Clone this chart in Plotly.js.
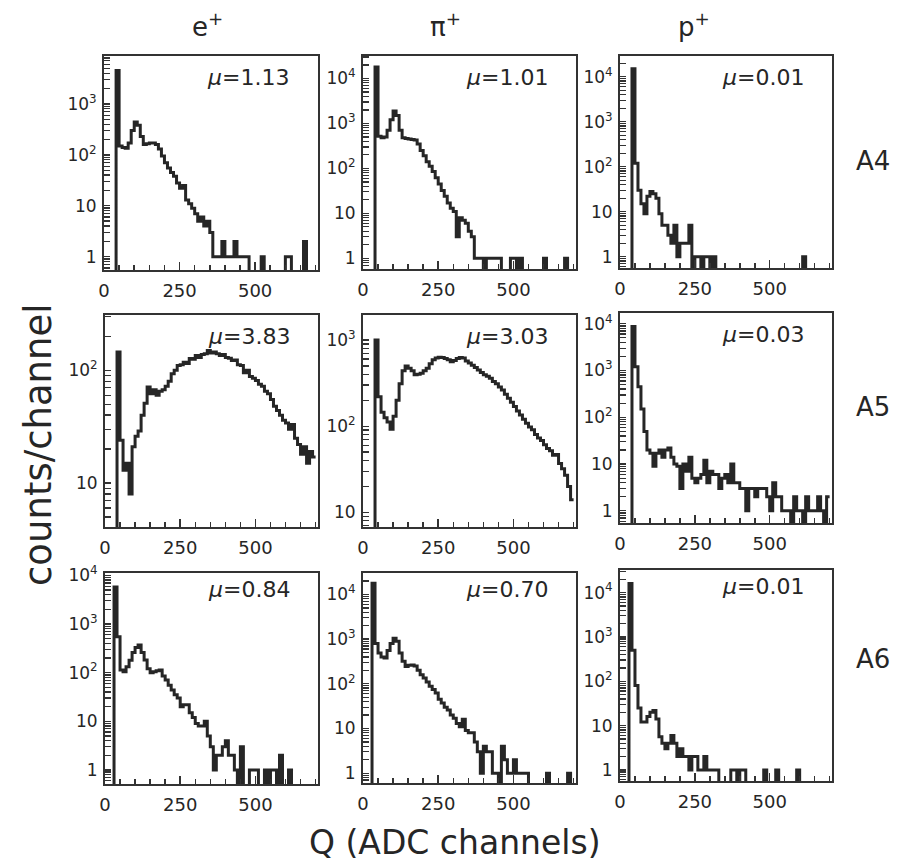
<!DOCTYPE html>
<html>
<head>
<meta charset="utf-8">
<script src="https://cdn.plot.ly/plotly-3.0.1.min.js"></script>
<style>html,body{margin:0;padding:0;background:#fff;}#chart{width:897px;height:863px;}</style>
</head>
<body>
<div id="chart"></div>
<script>
// ---- data: counts per 10-channel bin, channels 0..700 ----
const binWidth = 10;
const particles = ['e<sup>+</sup>', 'π<sup>+</sup>', 'p<sup>+</sup>'];
const detectors = ['A4', 'A5', 'A6'];
const muLabels = ['1.13', '1.01', '0.01', '3.83', '3.03', '0.03', '0.84', '0.70', '0.01'];
const xTickLabels = ['0', '250', '500'];
const yMajorVals = [1, 10, 100, 1000, 10000];
const yMajorLabels = ['1', '10', '10<sup>2</sup>', '10<sup>3</sup>', '10<sup>4</sup>'];

const ePlusA4 = [0,0,0,0,4500,150,140,135,170,300,440,380,230,160,165,170,170,160,130,95,
  70,55,45,38,28,22,25,13,11,9,7,5,6,4,5,3,1,1,1,2,
  1,1,1,2,1,1,1,1,0,0,0,0,1,0,0,0,0,0,0,0,
  1,1,0,0,0,0,2,0,0,0];
const piPlusA4 = [0,0,0,0,18000,520,480,500,700,1200,1900,1500,700,480,460,450,440,430,350,250,
  190,140,112,85,62,45,32,24,17,13,11,3,8,7,6,4,3,1,1,1,
  0,1,1,1,1,1,0,0,0,1,1,0,1,0,0,0,0,0,0,0,
  1,0,0,0,0,0,0,1,0,0];
const pPlusA4 = [0,0,0,0,15000,120,30,15,9,22,28,25,20,9,5,5,3,2,5,1,
  2,2,2,5,0,1,1,0,1,1,0,1,0,0,0,0,0,0,0,0,
  0,0,0,0,0,0,0,0,0,0,0,0,0,0,0,0,0,0,0,0,
  0,1,0,0,0,0,0,0,0,0];
const ePlusA5 = [0,0,0,0,145,24,13,15,8,21,26,29,40,51,71,62,67,60,65,67,
  72,80,93,100,110,112,118,115,127,125,135,130,138,140,150,142,145,140,135,138,
  130,128,122,123,112,110,95,100,88,85,81,75,72,65,62,55,48,44,40,36,
  34,30,33,25,22,18,21,15,19,17];
const piPlusA5 = [0,0,0,0,1000,220,145,125,112,92,130,200,310,440,500,470,440,395,400,410,
  440,470,530,590,620,630,625,610,590,560,580,610,625,620,570,540,510,480,450,420,
  395,380,360,330,310,285,263,235,211,190,169,150,135,120,108,98,91,80,73,68,
  61,55,52,46,47,37,32,27,20,14];
const pPlusA5 = [0,0,0,0,8700,1200,450,150,50,20,17,9,17,20,14,20,22,14,10,9,
  3,10,7,14,5,4,5,6,12,4,7,6,6,3,5,6,4,10,4,4,
  3,3,1,3,3,2,3,3,3,2,1,4,2,2,1,1,1,0,2,1,
  1,0,2,1,1,1,2,1,0,2];
const ePlusA6 = [0,0,0,5800,550,113,105,133,180,260,330,370,260,182,120,100,105,110,113,85,
  71,55,44,35,30,20,22,22,15,12,9,8,8,10,5,3,1,2,2,3,
  4,2,2,1,0,3,0,0,1,1,1,0,0,1,0,1,1,0,2,0,
  0,1,0,0,0,0,0,0,0,0];
const piPlusA6 = [0,0,0,17800,800,490,400,380,560,800,1050,900,490,320,245,260,265,250,200,160,
  135,110,88,75,62,45,37,30,26,20,17,13,11,16,9,8,8,5,3,1,
  4,3,3,1,1,0,4,2,1,1,2,1,1,1,1,0,0,0,0,0,
  0,1,0,0,0,0,0,0,1,0];
const pPlusA6 = [0,0,0,16000,500,80,25,12,12,16,20,22,14,5.6,4,3,4,6,4,2,
  3,2,2,1,2,2,1,1,2,1,1,1,1,0,0,0,0,1,1,0,
  1,1,0,0,0,0,0,0,1,0,0,0,1,0,0,0,0,0,0,1,
  0,0,0,0,0,0,0,0,0,0];

const series = [ePlusA4, piPlusA4, pPlusA4, ePlusA5, piPlusA5, pPlusA5, ePlusA6, piPlusA6, pPlusA6];

// y ranges (log10) per panel
const yLogRanges = [[-0.26,3.94],[-0.24,4.5],[-0.25,4.46],[0.61,2.49],[0.83,3.29],[-0.26,4.23],[-0.29,4.05],[-0.22,4.48],[-0.25,4.51]];

// panel pixel boxes [x0,x1,y0,y1]
const boxes = [
  [104,318,56,270],[363,576,56,269],[620,832,56,268],
  [105,318,315,527],[363,576,315,527],[620,832,313,523],
  [105,318,573,784],[363,576,573,783],[620,832,570,781]
];

// y tick positions: decades labelled, 2..9 in each decade unlabelled
const yTickVals = [], yTickText = [];
yMajorVals.forEach((v, n) => { yTickVals.push(v); yTickText.push(yMajorLabels[n]); });
[0.1, 1, 10, 100, 1000, 10000].forEach(d => { for (let m = 2; m <= 9; m++) { yTickVals.push(m * d); yTickText.push(''); } });

const W = 897, H = 863;
const ink = '#262626';
const axc = '#333333';
const font = 'DejaVu Sans, Arial, sans-serif';

const traces = [];
const layout = {
  width: W, height: H, autosize: false,
  margin: {l:0, r:0, t:0, b:0, pad:0},
  paper_bgcolor: '#ffffff', plot_bgcolor: '#ffffff',
  showlegend: false,
  font: {family: font, color: ink, size: 17},
  annotations: []
};

series.forEach((counts, i) => {
  const k = i + 1;
  const xs = [], ys = [];
  counts.forEach((c, j) => { xs.push(j * binWidth); ys.push(c > 0 ? c : 1e-3); });
  xs.push(counts.length * binWidth); ys.push(ys[ys.length - 1]);
  traces.push({
    type: 'scatter', mode: 'lines', x: xs, y: ys,
    xaxis: 'x' + k, yaxis: 'y' + k,
    line: {shape: 'hv', color: ink, width: 3},
    hoverinfo: 'skip'
  });
  const b = boxes[i];
  layout['xaxis' + k] = {
    domain: [b[0] / W, b[1] / W], anchor: 'y' + k,
    range: [0, 708], showgrid: false, zeroline: false,
    showline: true, mirror: true, linecolor: axc, linewidth: 2,
    ticks: 'inside', ticklen: 8, tickwidth: 1.5, tickcolor: axc,
    tickmode: 'array', tickvals: [0, 250, 500], ticktext: xTickLabels,
    minor: {tickmode: 'linear', tick0: 0, dtick: 50, ticks: 'inside', ticklen: 5, tickwidth: 1.5, tickcolor: axc, showgrid: false},
    tickfont: {family: font, size: 18, color: ink},
    ticklabelstandoff: 3
  };
  layout['yaxis' + k] = {
    domain: [1 - b[3] / H, 1 - b[2] / H], anchor: 'x' + k,
    type: 'log', range: yLogRanges[i], showgrid: false, zeroline: false,
    showline: true, mirror: true, linecolor: axc, linewidth: 2,
    ticks: 'inside', ticklen: 6, tickwidth: 1.3, tickcolor: axc,
    tickmode: 'array', tickvals: yTickVals, ticktext: yTickText,
    tickfont: {family: font, size: 17, color: ink},
    ticklabelstandoff: 2
  };
  // mu annotation
  layout.annotations.push({
    xref: 'x' + k + ' domain', yref: 'y' + k + ' domain',
    x: 0.675, y: (i < 6 ? 0.9 : 0.92), xanchor: 'center', yanchor: 'middle',
    text: '<i>μ</i>=' + muLabels[i], showarrow: false,
    font: {family: font, size: 22, color: ink}
  });
});

// column titles
const colX = [207, 445, 694];
particles.forEach((p, c) => {
  layout.annotations.push({xref: 'paper', yref: 'paper', x: colX[c] / W, y: 1 - 25 / H,
    xanchor: 'center', yanchor: 'middle', text: p, showarrow: false,
    font: {family: font, size: 26, color: ink}});
});
// row labels
const rowY = [161, 407, 659];
detectors.forEach((d, r) => {
  layout.annotations.push({xref: 'paper', yref: 'paper', x: 873 / W, y: 1 - rowY[r] / H,
    xanchor: 'center', yanchor: 'middle', text: d, showarrow: false,
    font: {family: font, size: 26, color: ink}});
});
// axis titles
layout.annotations.push({xref: 'paper', yref: 'paper', x: 38 / W, y: 1 - 445 / H,
  xanchor: 'center', yanchor: 'middle', text: 'counts/channel', textangle: -90, showarrow: false,
  font: {family: font, size: 37, color: ink}});
layout.annotations.push({xref: 'paper', yref: 'paper', x: 455 / W, y: 1 - 842 / H,
  xanchor: 'center', yanchor: 'middle', text: 'Q (ADC channels)', showarrow: false,
  font: {family: font, size: 33, color: ink}});

Plotly.newPlot('chart', traces, layout, {displayModeBar: false, staticPlot: true});
</script>
</body>
</html>
